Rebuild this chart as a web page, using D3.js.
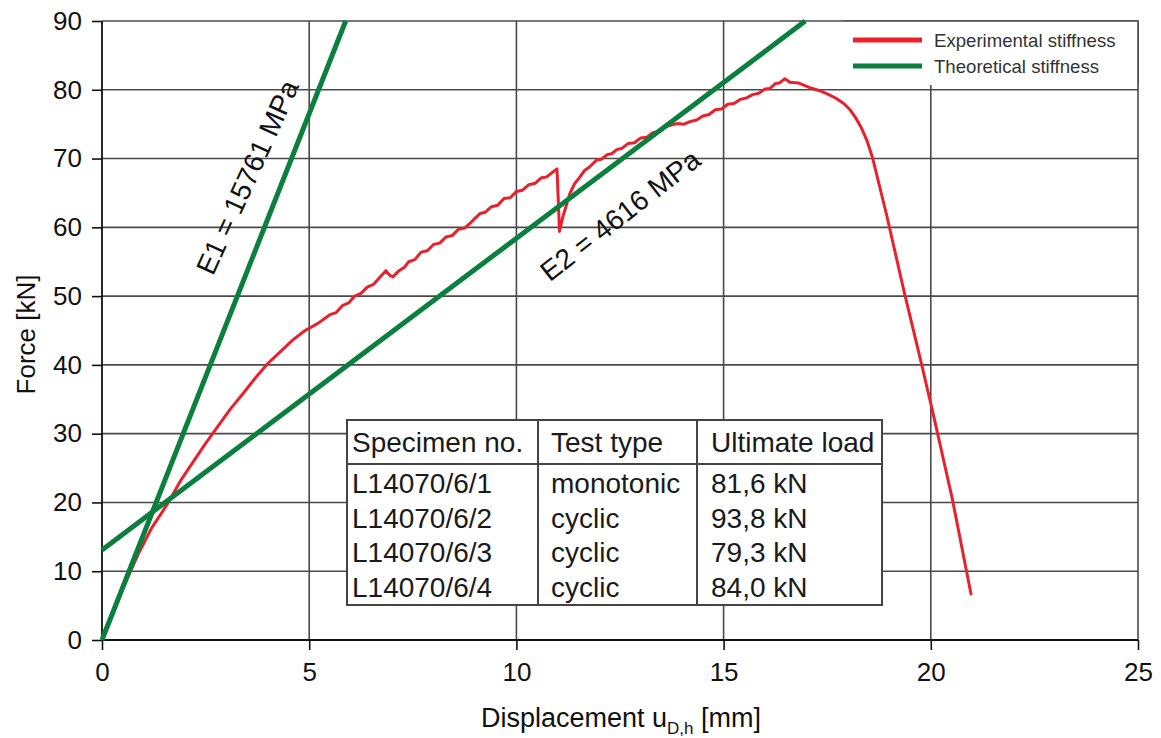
<!DOCTYPE html>
<html>
<head>
<meta charset="utf-8">
<script src="https://cdn.jsdelivr.net/npm/d3@7"></script>
<style>
  html, body { margin: 0; padding: 0; background: #fff; }
  svg { display: block; font-family: "Liberation Sans", Arial, sans-serif; }
</style>
</head>
<body>
<svg id="chart" width="1161" height="738"></svg>
<script>
// Axis ticks
const xTicks = [0, 5, 10, 15, 20, 25];
const yTicks = [0, 10, 20, 30, 40, 50, 60, 70, 80, 90];

// Measured load–displacement curve [displacement mm, force kN]
const experimental = [
  [0.05, 1.2], [0.3, 4.6], [0.6, 8.8], [0.9, 12.8], [1.2, 16.3], [1.56, 19.6],
  [1.9, 23.2], [2.2, 25.9], [2.5, 28.6], [2.8, 31.1], [3.1, 33.6], [3.4, 35.8],
  [3.7, 38.1], [4.0, 40.2], [4.3, 41.9], [4.6, 43.6], [4.9, 45.0], [5.2, 46.0],
  [5.5, 47.3], [5.65, 47.6], [5.8, 48.6], [5.95, 49.0], [6.1, 50.0], [6.25, 50.4],
  [6.4, 51.3], [6.55, 51.7], [6.7, 52.7], [6.85, 53.7], [6.95, 53.0], [7.02, 52.8],
  [7.15, 53.6], [7.3, 54.2], [7.4, 55.0], [7.55, 55.3], [7.7, 56.4], [7.85, 56.6],
  [8.0, 57.5], [8.15, 57.7], [8.3, 58.6], [8.45, 58.8], [8.6, 59.7], [8.75, 59.9],
  [8.9, 60.7], [9.0, 61.3], [9.12, 62.0], [9.25, 62.2], [9.4, 63.0], [9.55, 63.2],
  [9.7, 64.2], [9.85, 64.3], [10.0, 65.2], [10.15, 65.4], [10.3, 66.2], [10.45, 66.4],
  [10.6, 67.2], [10.72, 67.3], [10.85, 67.9], [10.98, 68.5], [11.04, 59.4], [11.12, 61.5],
  [11.29, 64.9], [11.4, 66.3], [11.53, 67.3], [11.65, 68.3], [11.75, 68.7], [11.94, 69.8],
  [12.05, 69.9], [12.2, 70.6], [12.3, 70.7], [12.42, 71.3], [12.55, 71.5], [12.7, 72.2],
  [12.85, 72.3], [13.0, 73.0], [13.15, 73.1], [13.3, 73.8], [13.45, 73.9], [13.6, 74.6],
  [13.75, 74.9], [13.9, 75.1], [14.05, 75.0], [14.2, 75.4], [14.35, 75.6], [14.5, 76.2],
  [14.65, 76.4], [14.8, 77.1], [14.95, 77.2], [15.1, 77.9], [15.25, 78.0], [15.4, 78.6],
  [15.55, 78.8], [15.7, 79.3], [15.85, 79.5], [16.0, 80.1], [16.12, 80.2], [16.25, 80.9],
  [16.35, 81.0], [16.48, 81.6], [16.6, 81.1], [16.8, 81.0], [17.08, 80.3], [17.3, 79.9],
  [17.5, 79.4], [17.7, 78.8], [17.9, 78.0], [18.05, 77.1], [18.2, 75.8], [18.33, 74.4],
  [18.46, 72.6], [18.6, 70.0], [18.75, 66.3], [18.93, 61.9], [19.35, 50.8],
  [19.77, 40.3], [20.06, 32.8], [20.52, 20.5], [20.97, 6.7]
];

// Theoretical stiffness lines, E1 and E2 [displacement mm, force kN]
const stiffnessE1 = [[0, 0], [5.88, 90]];
const stiffnessE2 = [[0, 13.1], [16.97, 90]];

// Summary table
const tableHeader = ["Specimen no.", "Test type", "Ultimate load"];
const specimens = ["L14070/6/1", "L14070/6/2", "L14070/6/3", "L14070/6/4"];
const testTypes = ["monotonic", "cyclic", "cyclic", "cyclic"];
const ultimateLoads = ["81,6 kN", "93,8 kN", "79,3 kN", "84,0 kN"];

const RED = "#e8212d";
const GREEN = "#0b7f3d";

const svg = d3.select("#chart");
const plotLeft = 102, plotRight = 1138, plotTop = 21, plotBottom = 640;

const x = d3.scaleLinear().domain([0, 25]).range([plotLeft, plotRight]);
const y = d3.scaleLinear().domain([0, 90]).range([plotBottom, plotTop]);

// Grid
const grid = svg.append("g").attr("stroke", "#4a4a4a").attr("stroke-width", 1.6);
grid.selectAll("line.v").data(xTicks.slice(1)).join("line").attr("class", "v")
  .attr("x1", d => x(d)).attr("x2", d => x(d)).attr("y1", plotTop).attr("y2", plotBottom);
grid.selectAll("line.h").data(yTicks.slice(1)).join("line").attr("class", "h")
  .attr("x1", plotLeft).attr("x2", plotRight).attr("y1", d => y(d)).attr("y2", d => y(d));

// Axes
const xAxis = svg.append("g").attr("transform", `translate(0,${plotBottom})`)
  .call(d3.axisBottom(x).tickValues(xTicks).tickSize(10).tickPadding(13).tickFormat(d3.format("d")));
const yAxis = svg.append("g").attr("transform", `translate(${plotLeft},0)`)
  .call(d3.axisLeft(y).tickValues(yTicks).tickSize(10).tickPadding(10).tickFormat(d3.format("d")));
[xAxis, yAxis].forEach(a => {
  a.select(".domain").attr("stroke", "#111").attr("stroke-width", 1.8);
  a.selectAll(".tick line").attr("stroke", "#111").attr("stroke-width", 1.6);
  a.selectAll(".tick text").attr("font-size", 26).attr("fill", "#111")
    .attr("font-family", "'Liberation Sans', Arial, sans-serif");
});
yAxis.select(".domain").attr("d", `M0,${plotBottom}V${plotTop}`);
xAxis.select(".domain").attr("d", `M${plotLeft},0H${plotRight}`);

// Axis titles
svg.append("text")
  .attr("transform", `translate(35,${(plotTop + plotBottom) / 2 + 4}) rotate(-90)`)
  .attr("text-anchor", "middle").attr("font-size", 26).attr("fill", "#111")
  .text("Force [kN]");
const xt = svg.append("text")
  .attr("x", 621).attr("y", 727)
  .attr("text-anchor", "middle").attr("font-size", 27).attr("fill", "#111");
xt.append("tspan").text("Displacement u");
xt.append("tspan").attr("font-size", 17).attr("dy", 7).text("D,h");
xt.append("tspan").attr("dy", -7).text(" [mm]");

// Curves
const line = d3.line().x(d => x(d[0])).y(d => y(d[1]));
svg.append("path").datum(experimental).attr("d", line)
  .attr("fill", "none").attr("stroke", RED).attr("stroke-width", 3)
  .attr("stroke-linejoin", "round").attr("stroke-linecap", "round");
[stiffnessE1, stiffnessE2].forEach(s => {
  svg.append("path").datum(s).attr("d", line)
    .attr("fill", "none").attr("stroke", GREEN).attr("stroke-width", 5);
});

// Stiffness labels
svg.append("text")
  .attr("transform", "translate(247,177) rotate(-65.6)")
  .attr("text-anchor", "middle").attr("dy", "0.36em")
  .attr("font-size", 28).attr("fill", "#111").text("E1 = 15761 MPa");
svg.append("text")
  .attr("transform", "translate(620,215) rotate(-38)")
  .attr("text-anchor", "middle").attr("dy", "0.36em")
  .attr("font-size", 28).attr("fill", "#111").text("E2 = 4616 MPa");

// Legend
const lg = svg.append("g");
lg.append("rect").attr("x", 843).attr("y", plotTop).attr("width", plotRight - 843).attr("height", 64)
  .attr("fill", "#fff");
lg.append("path").attr("d", `M843,${plotTop}H${plotRight}V${plotTop + 64}`)
  .attr("fill", "none").attr("stroke", "#4a4a4a").attr("stroke-width", 1.6);
const legendItems = [["Experimental stiffness", RED], ["Theoretical stiffness", GREEN]];
legendItems.forEach(([label, color], i) => {
  const ly = 40 + i * 26;
  lg.append("line").attr("x1", 853).attr("x2", 922).attr("y1", ly).attr("y2", ly)
    .attr("stroke", color).attr("stroke-width", 5);
  lg.append("text").attr("x", 934).attr("y", ly).attr("dy", "0.35em")
    .attr("font-size", 18.6).attr("fill", "#333").text(label);
});

// Table
const tb = svg.append("g");
const tx0 = 347, tx1 = 882, ty0 = 420, ty1 = 605, hy = 464;
const colX = [tx0, 538, 697];
tb.append("rect").attr("x", tx0).attr("y", ty0).attr("width", tx1 - tx0).attr("height", ty1 - ty0)
  .attr("fill", "#fff").attr("stroke", "#444").attr("stroke-width", 2);
tb.append("line").attr("x1", tx0).attr("x2", tx1).attr("y1", hy).attr("y2", hy)
  .attr("stroke", "#444").attr("stroke-width", 2);
colX.slice(1).forEach(cx => tb.append("line").attr("x1", cx).attr("x2", cx)
  .attr("y1", ty0).attr("y2", ty1).attr("stroke", "#444").attr("stroke-width", 2));
const textX = [352, 551, 711];
const rowY = [493, 528, 562, 597];
tableHeader.forEach((h, j) => tb.append("text").attr("x", textX[j]).attr("y", 452)
  .attr("font-size", 28).attr("fill", "#1a1a1a").text(h));
[specimens, testTypes, ultimateLoads].forEach((col, j) => {
  col.forEach((v, i) => tb.append("text").attr("x", textX[j]).attr("y", rowY[i])
    .attr("font-size", 28).attr("fill", "#1a1a1a").text(v));
});
</script>
</body>
</html>
